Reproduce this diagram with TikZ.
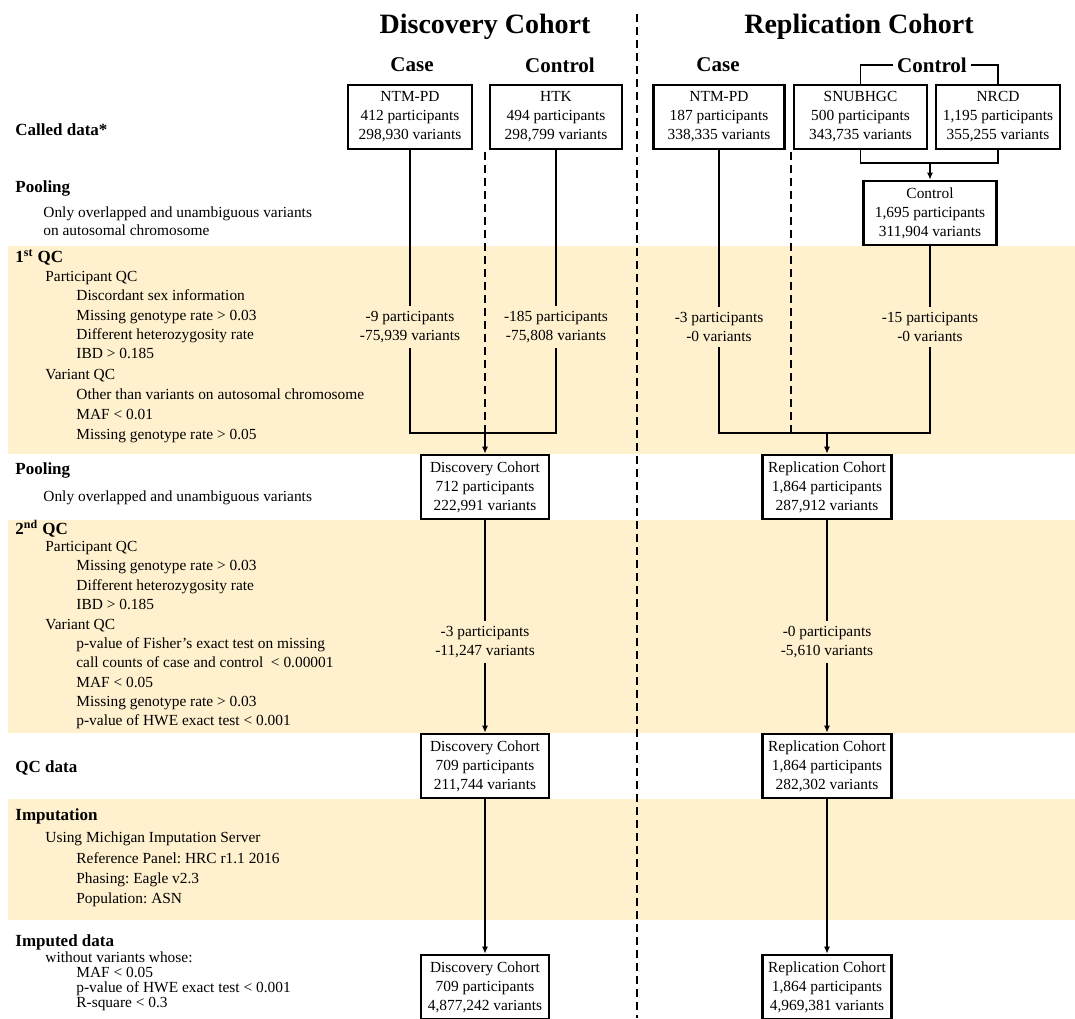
\documentclass[tikz,border=0pt]{standalone}
\usepackage{fontspec}
\setmainfont{Liberation Serif}
\usetikzlibrary{arrows.meta, positioning}
\definecolor{bandfill}{RGB}{255,241,206}
\frenchspacing

\begin{document}
\begin{tikzpicture}[
  x=0.5pt, y=-0.5pt,
  block/.style={
    rectangle,
    draw,
    line width=1.1pt,
    align=center,
    inner xsep=2pt,
    minimum width=#1,
    minimum height=32pt,
    font=\fontsize{7.7}{9.5}\selectfont
  },
  block/.default=64pt,
  drop/.style={align=center, inner sep=2.5pt, font=\fontsize{7.7}{9.5}\selectfont},
  cohort/.style={font=\fontsize{14}{16}\selectfont\bfseries},
  group/.style={inner sep=2pt, font=\fontsize{10.5}{12}\selectfont\bfseries},
  stage/.style={anchor=west, inner sep=0pt, text height=6pt, text depth=1.8pt,
    font=\fontsize{8.5}{10}\selectfont\bfseries},
  item/.style={anchor=west, inner sep=0pt, text height=5.6pt, text depth=1.6pt,
    font=\fontsize{7.7}{9.5}\selectfont},
  line/.style={line width=0.9pt},
  arrow/.style={line width=0.9pt, -{Latex[length=3.5pt, width=3pt]}},
  divider/.style={line width=0.9pt, dash pattern=on 4pt off 2.5pt}
]
  \useasboundingbox (0,0) rectangle (1075,1018);

  % Bands
  \fill[bandfill] (8,246) rectangle (1075,454);
  \fill[bandfill] (8,520) rectangle (1075,733);
  \fill[bandfill] (8,799) rectangle (1075,920);

  % Headers
  \node (disc) [cohort] at (485,27) {Discovery Cohort};
  \node (repl) [cohort] at (859,27) {Replication Cohort};
  \node (dcasehead) [group] at (412,65) {Case};
  \node (dctrlhead) [group] at (560,65) {Control};
  \node (rcasehead) [group] at (718,65) {Case};
  \node (rctrlhead) [group] at (932,65) {Control};

  \coordinate (divtop) at (637,14);
  \coordinate (divbot) at (637,1018);
  \draw[divider] (divtop) -- (divbot);

  % Stages on the left
  \node (called) [stage] at (15,131) {Called data*};
  \node (pool1) [stage] at (15,188) {Pooling};
  \node (qc1) [stage] at (15,258) {1\textsuperscript{st} QC};
  \node (pool2) [stage] at (15,470) {Pooling};
  \node (qc2) [stage] at (15,530) {2\textsuperscript{nd} QC};
  \node (qcdata) [stage] at (15,768) {QC data};
  \node (imput) [stage] at (15,816) {Imputation};
  \node (imputed) [stage] at (15,942) {Imputed data};

  \foreach \x/\y/\txt in {
    43/213/Only overlapped and unambiguous variants,
    43/231/on autosomal chromosome,
    45/277/Participant QC,
    76/296/Discordant sex information,
    76/316/Missing genotype rate > 0.03,
    76/335/Different heterozygosity rate,
    76/354/IBD > 0.185,
    45/375/Variant QC,
    76/395/Other than variants on autosomal chromosome,
    76/415/MAF < 0.01,
    76/435/Missing genotype rate > 0.05,
    43/497/Only overlapped and unambiguous variants,
    45/547/Participant QC,
    76/566/Missing genotype rate > 0.03,
    76/586/Different heterozygosity rate,
    76/605/IBD > 0.185,
    45/625/Variant QC,
    76/644/p-value of Fisher’s exact test on missing,
    76/663/call counts of case and control \ < 0.00001,
    76/683/MAF < 0.05,
    76/702/Missing genotype rate > 0.03,
    76/721/p-value of HWE exact test < 0.001,
    45/838/Using Michigan Imputation Server,
    76/859/Reference Panel: HRC r1.1 2016,
    76/879/Phasing: Eagle v2.3,
    76/899/Population: ASN,
    45/958/without variants whose:,
    76/973/MAF < 0.05,
    76/988/p-value of HWE exact test < 0.001,
    76/1003/R-square < 0.3}
    \node (txt-\y) [item] at (\x,\y) {\txt};

  % Discovery cohort
  \node (dcase) [block=62pt] at (410,117) {NTM-PD\\412 participants\\298,930 variants};
  \node (dctrl) [block=66pt] at (556,117) {HTK\\494 participants\\298,799 variants};
  \node (dcasedrop) [drop] at (410,327) {-9 participants\\-75,939 variants};
  \node (dctrldrop) [drop] at (556,327) {-185 participants\\-75,808 variants};
  \node (dpool) [block] at (485,487) {Discovery Cohort\\712 participants\\222,991 variants};
  \node (dpooldrop) [drop] at (485,642) {-3 participants\\-11,247 variants};
  \node (dqc) [block] at (485,766) {Discovery Cohort\\709 participants\\211,744 variants};
  \node (dimp) [block] at (485,987) {Discovery Cohort\\709 participants\\4,877,242 variants};

  \coordinate (dsplit) at (485,152);
  \coordinate (dcasejoin) at (410,433);
  \coordinate (dctrljoin) at (556,433);
  \coordinate (djoin) at (485,433);

  % Replication cohort
  \node (rcase) [block=65.5pt] at (719,117) {NTM-PD\\187 participants\\338,335 variants};
  \node (rsnu) [block=66.5pt] at (860.5,117) {SNUBHGC\\500 participants\\343,735 variants};
  \node (rnrcd) [block=62pt] at (998,117) {NRCD\\1,195 participants\\355,255 variants};
  \node (rctrl) [block=66.5pt] at (930,213) {Control\\1,695 participants\\311,904 variants};
  \node (rcasedrop) [drop] at (719,327) {-3 participants\\-0 variants};
  \node (rctrldrop) [drop] at (930,327) {-15 participants\\-0 variants};
  \node (rpool) [block=64.5pt] at (827,487) {Replication Cohort\\1,864 participants\\287,912 variants};
  \node (rpooldrop) [drop] at (827,642) {-0 participants\\-5,610 variants};
  \node (rqc) [block=64.5pt] at (827,766) {Replication Cohort\\1,864 participants\\282,302 variants};
  \node (rimp) [block=64.5pt] at (827,987) {Replication Cohort\\1,864 participants\\4,969,381 variants};

  \coordinate (rsnujoin) at (860.5,163);
  \coordinate (rnrcdjoin) at (998,163);
  \coordinate (rctrljoin) at (930,163);
  \coordinate (rsplit) at (791,152);
  \coordinate (rsplitend) at (791,433);
  \coordinate (rcasejoin) at (719,433);
  \coordinate (rctrlbot) at (930,433);
  \coordinate (rjoin) at (827,433);

  % Arrows, discovery
  \draw[line] (dcase) -- (dcasedrop);
  \draw[line] (dcasedrop) -- (dcasejoin) -- (dctrljoin) -- (dctrldrop);
  \draw[line] (dctrldrop) -- (dctrl);
  \draw[divider] (dsplit) -- (djoin);
  \draw[arrow] (djoin) -- (dpool);
  \draw[line] (dpool) -- (dpooldrop);
  \draw[arrow] (dpooldrop) -- (dqc);
  \draw[arrow] (dqc) -- (dimp);

  % Arrows, replication
  \draw[line] (rctrlhead.west) -| (rsnu);
  \draw[line] (rctrlhead.east) -| (rnrcd);
  \draw[line] (rsnu) -- (rsnujoin) -- (rnrcdjoin) -- (rnrcd);
  \draw[arrow] (rctrljoin) -- (rctrl);
  \draw[line] (rcase) -- (rcasedrop);
  \draw[line] (rctrl) -- (rctrldrop);
  \draw[line] (rcasedrop) -- (rcasejoin) -- (rctrlbot) -- (rctrldrop);
  \draw[divider] (rsplit) -- (rsplitend);
  \draw[arrow] (rjoin) -- (rpool);
  \draw[line] (rpool) -- (rpooldrop);
  \draw[arrow] (rpooldrop) -- (rqc);
  \draw[arrow] (rqc) -- (rimp);

\end{tikzpicture}
\end{document}
